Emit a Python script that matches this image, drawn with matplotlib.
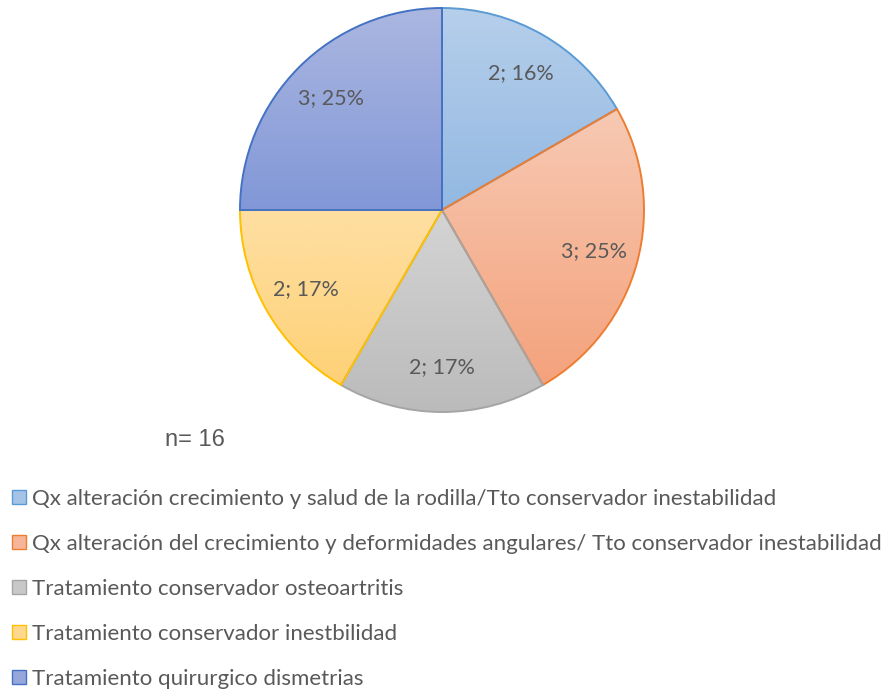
import numpy as np
import matplotlib
matplotlib.use("Agg")
import matplotlib.pyplot as plt
from matplotlib.patches import Patch

categories = [
    "Qx alteración crecimiento y salud de la rodilla/Tto conservador inestabilidad",
    "Qx alteración del crecimiento y deformidades angulares/ Tto conservador inestabilidad",
    "Tratamiento conservador osteoartritis",
    "Tratamiento conservador inestbilidad",
    "Tratamiento quirurgico dismetrias",
]
values = [2, 3, 2, 2, 3]
slice_labels = ["2; 16%", "3; 25%", "2; 17%", "2; 17%", "3; 25%"]
n_text = "n= 16"

edge_colors = ["#5b9bd5", "#ed7d31", "#a5a5a5", "#ffc000", "#4472c4"]
top_colors = ["#b6cfeb", "#f7c9b3", "#d4d4d4", "#fedfa2", "#abb7e1"]
bottom_colors = ["#92b8e2", "#f4a27c", "#bbbbbb", "#fed176", "#8197d7"]

TEXT = "#595959"
FONT = ["Lato", "DejaVu Sans"]
plt.rcParams["font.family"] = FONT

W, H = 882, 689
fig = plt.figure(figsize=(W / 100, H / 100), dpi=100)
ax = fig.add_axes([0, 0, 1, 1])
cx, cy, R = 442, H - 210, 202

wedges, texts = ax.pie(
    values, labels=slice_labels, startangle=90, counterclock=False,
    center=(cx, cy), radius=R, labeldistance=0.78, frame=True,
    wedgeprops=dict(linewidth=1.4),
    textprops=dict(color=TEXT, fontsize=15.5, ha="center", va="center"),
)


def hex2rgb(h):
    h = h.lstrip("#")
    return np.array([int(h[i:i + 2], 16) / 255 for i in (0, 2, 4)])


for w, ec, tc, bc in zip(wedges, edge_colors, top_colors, bottom_colors):
    ext = w.get_path().get_extents()
    t = np.linspace(0, 1, 200)[:, None, None]
    grad = hex2rgb(tc)[None, None, :] * (1 - t) + hex2rgb(bc)[None, None, :] * t
    im = ax.imshow(grad, extent=(ext.x0, ext.x1, ext.y0, ext.y1), origin="upper",
                   aspect="auto", zorder=0.5, interpolation="bilinear")
    im.set_clip_path(w)
    w.set_facecolor("none")
    w.set_edgecolor(ec)
    w.set_zorder(1)

for t in texts:
    t.set_zorder(3)

ax.set_xlim(0, W)
ax.set_ylim(0, H)
ax.set_aspect("equal")
ax.axis("off")

fig.text(165 / W, 1 - 440 / H, n_text, color=TEXT, fontsize=17, ha="left", va="center",
         family=["Liberation Sans", "DejaVu Sans"])

mid_colors = [tuple((hex2rgb(a) + hex2rgb(b)) / 2) for a, b in zip(top_colors, bottom_colors)]
handles = [Patch(facecolor=m, edgecolor=e, linewidth=1.0) for m, e in zip(mid_colors, edge_colors)]
fig.legend(handles, categories, loc="upper left", bbox_to_anchor=(12 / W, 1 - 489 / H),
           frameon=False, fontsize=16, labelcolor=TEXT, handlelength=0.62, handleheight=0.62,
           handletextpad=0.3, labelspacing=1.12, borderaxespad=0, borderpad=0)

fig.savefig("out.png", dpi=100)
